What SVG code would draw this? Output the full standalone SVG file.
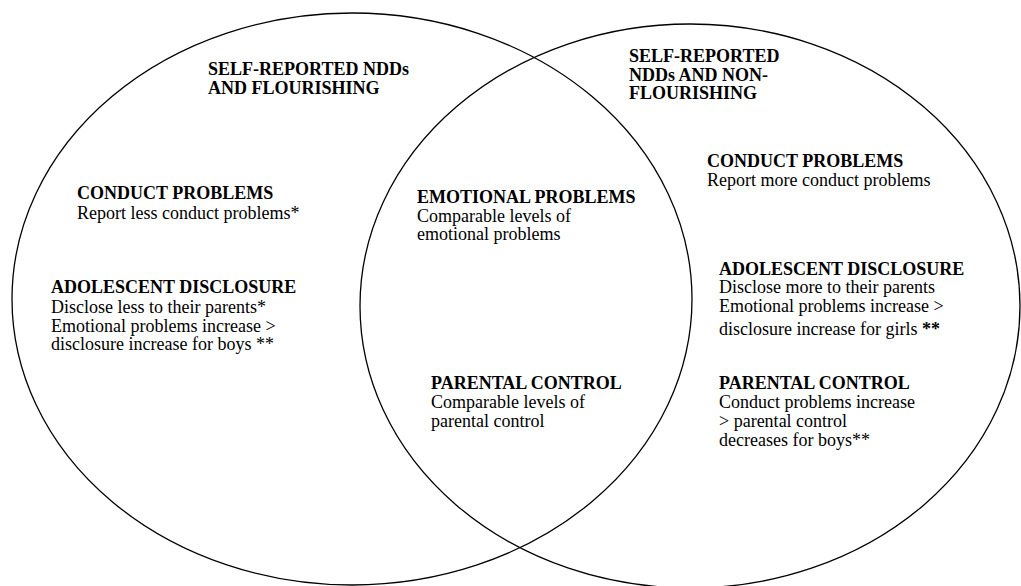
<svg xmlns="http://www.w3.org/2000/svg" width="1021" height="586" viewBox="0 0 1021 586">
<style>
.ring{fill:none;stroke:#000;stroke-width:1.3}
text{font-family:"Liberation Serif","Times New Roman",serif;font-size:18px;fill:#000}
.h{font-weight:bold}
</style>
<rect width="1021" height="586" fill="#fff"/>
<g id="connectors"></g>
<g id="set-flourishing">
<ellipse class="ring" cx="352" cy="299" rx="340" ry="286"/>
<text class="h" x="208" y="75">SELF-REPORTED NDDs</text>
<text class="h" x="208" y="94">AND FLOURISHING</text>
</g>
<g id="set-nonflourishing">
<ellipse class="ring" cx="690" cy="306" rx="330" ry="282"/>
<text class="h" x="629" y="62">SELF-REPORTED</text>
<text class="h" x="629" y="81">NDDs AND NON-</text>
<text class="h" x="629" y="99">FLOURISHING</text>
</g>
<g id="left-conduct">
<text class="h" x="77" y="199">CONDUCT PROBLEMS</text>
<text x="77" y="219">Report less conduct problems*</text>
</g>
<g id="left-disclosure">
<text class="h" x="51" y="293">ADOLESCENT DISCLOSURE</text>
<text x="51" y="313">Disclose less to their parents*</text>
<text x="51" y="331.5">Emotional problems increase &gt;</text>
<text x="51" y="350">disclosure increase for boys **</text>
</g>
<g id="center-emotional">
<text class="h" x="417" y="203">EMOTIONAL PROBLEMS</text>
<text x="417" y="222">Comparable levels of</text>
<text x="417" y="240">emotional problems</text>
</g>
<g id="center-parental">
<text class="h" x="431" y="389">PARENTAL CONTROL</text>
<text x="431" y="408">Comparable levels of</text>
<text x="431" y="427">parental control</text>
</g>
<g id="right-conduct">
<text class="h" x="707" y="167">CONDUCT PROBLEMS</text>
<text x="707" y="186">Report more conduct problems</text>
</g>
<g id="right-disclosure">
<text class="h" x="719" y="275">ADOLESCENT DISCLOSURE</text>
<text x="719" y="293">Disclose more to their parents</text>
<text x="719" y="312">Emotional problems increase &gt;</text>
<text x="719" y="335">disclosure increase for girls <tspan class="h">**</tspan></text>
</g>
<g id="right-parental">
<text class="h" x="719" y="389">PARENTAL CONTROL</text>
<text x="719" y="408">Conduct problems increase</text>
<text x="719" y="427">&gt; parental control</text>
<text x="719" y="446">decreases for boys**</text>
</g>
</svg>
